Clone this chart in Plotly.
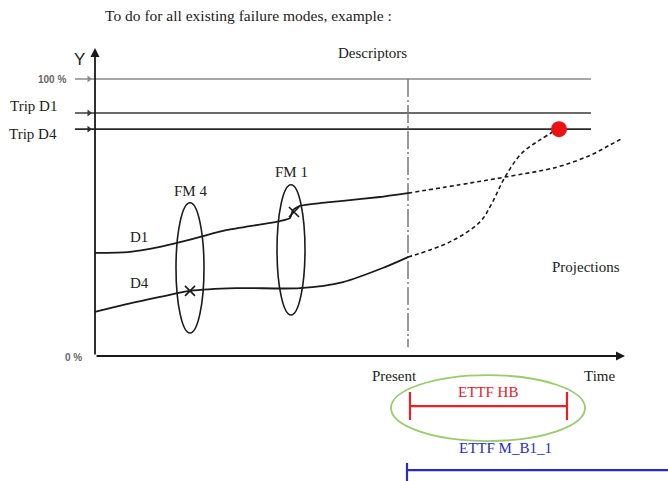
import plotly.graph_objects as go

# ---- data (time units: y-axis at 0, "Present" at 313; Y in percent) ----
PRESENT_T = 313
TRIP_D1 = 87.7
TRIP_D4 = 81.9
FULL = 100.0

d1_t = [0, 33, 65, 82, 108, 132, 185, 195, 198, 205, 225, 248, 285, 313]
d1_y = [37.2, 37.5, 39.4, 40.8, 43.3, 45.5, 48.7, 49.8, 52.7, 54.2, 55.2, 56.0, 57.4, 58.8]
d1_proj_t = [313, 376, 410, 462, 496, 515, 528]
d1_proj_y = [58.8, 62.5, 64.6, 68.2, 72.6, 76.2, 78.7]

d4_t = [0, 33, 65, 95, 141, 205, 248, 290, 313]
d4_y = [15.9, 18.8, 21.3, 23.5, 24.5, 24.5, 26.7, 32.1, 35.7]
d4_proj_t = [313, 355, 385, 397, 410, 427, 445, 464]
d4_proj_y = [35.7, 41.2, 48.4, 55.2, 64.6, 73.3, 78.0, 82.3]

fm_names = ["FM 4", "FM 1"]
fm_t = [95, 196]
fm_y = [31.8, 38.3]
fm_x_mark_t = [95, 199]
fm_x_mark_y = [23.5, 52.0]

trip_hit_t = 464
ettf_hb = [315, 472]
ettf_m = [312, 573]

fig = go.Figure()

BLACK = "#1a1a1a"

# horizontal reference lines
for yv, col in [(FULL, "#8a8a8a"), (TRIP_D1, "#3a3a3a"), (TRIP_D4, "#2a2a2a")]:
    fig.add_trace(go.Scatter(x=[-20, 496], y=[yv, yv], mode="lines",
                             line=dict(color=col, width=1.6), hoverinfo="skip"))
    fig.add_trace(go.Scatter(x=[-6], y=[yv], mode="markers",
                             marker=dict(symbol="triangle-right", size=6, color=col),
                             hoverinfo="skip"))

# present line
fig.add_trace(go.Scatter(x=[PRESENT_T, PRESENT_T], y=[FULL, 3.2], mode="lines",
                         line=dict(color="#7a7a7a", width=1.5, dash="18px,3px,2px,3px"),
                         hoverinfo="skip"))

# descriptor curves
fig.add_trace(go.Scatter(x=d1_t, y=d1_y, mode="lines",
                         line=dict(color=BLACK, width=1.8, shape="spline", smoothing=0.5)))
fig.add_trace(go.Scatter(x=d4_t, y=d4_y, mode="lines",
                         line=dict(color=BLACK, width=1.8, shape="spline", smoothing=0.8)))
fig.add_trace(go.Scatter(x=d1_proj_t, y=d1_proj_y, mode="lines",
                         line=dict(color=BLACK, width=1.6, dash="4px,3px", shape="spline")))
fig.add_trace(go.Scatter(x=d4_proj_t, y=d4_proj_y, mode="lines",
                         line=dict(color=BLACK, width=1.6, dash="4px,3px", shape="spline")))

# failure mode x marks
fig.add_trace(go.Scatter(x=fm_x_mark_t, y=fm_x_mark_y, mode="markers",
                         marker=dict(symbol="x-thin-open", size=10, color=BLACK,
                                     line=dict(color=BLACK, width=1.6))))

# trip hit
fig.add_trace(go.Scatter(x=[trip_hit_t], y=[TRIP_D4], mode="markers",
                         marker=dict(symbol="circle", size=16, color="#ee1111")))

# ETTF bars
fig.add_trace(go.Scatter(x=ettf_hb, y=[-18.1, -18.1], mode="lines",
                         line=dict(color="#e8202a", width=2.2)))
for tv in ettf_hb:
    fig.add_trace(go.Scatter(x=[tv, tv], y=[-13.0, -23.1], mode="lines",
                             line=dict(color="#e8202a", width=2.2)))
fig.add_trace(go.Scatter(x=ettf_m, y=[-41.2, -41.2], mode="lines",
                         line=dict(color="#2b2bc4", width=2.2)))
fig.add_trace(go.Scatter(x=[ettf_m[0], ettf_m[0]], y=[-38.6, -45.2], mode="lines",
                         line=dict(color="#2b2bc4", width=2.2)))

shapes = []
for t, y in zip(fm_t, fm_y):
    shapes.append(dict(type="circle", xref="x", yref="y",
                       x0=t - 14, x1=t + 14, y0=y - 23.5, y1=y + 23.5,
                       line=dict(color=BLACK, width=1.6)))
shapes.append(dict(type="circle", xref="x", yref="y",
                   x0=393 - 97, x1=393 + 97, y0=-18.8 - 11.9, y1=-18.8 + 11.9,
                   line=dict(color="#9bcb6a", width=1.8)))

SERIF = "Liberation Serif"
SANS = "Liberation Sans"

def txt(x, y, s, size=15, color="#222222", family=SERIF):
    return dict(x=x, y=y, xref="x", yref="y", text=s, showarrow=False,
                font=dict(family=family, size=size, color=color))

ann = [
    txt(153, 123.1, "To do for all existing failure modes, example :", 15.5),
    txt(277, 109.4, "Descriptors", 15),
    txt(491, 32.1, "Projections", 15),
    txt(44, 43.0, "D1", 15),
    txt(44, 26.4, "D4", 15),
    txt(fm_t[0], 59.6, fm_names[0], 15),
    txt(fm_t[1], 66.4, fm_names[1], 15),
    txt(-62, 90.3, "Trip D1", 15),
    txt(-62, 80.1, "Trip D4", 15),
    txt(-43, 100, "<b>100 %</b>", 10, "#666666", SANS),
    txt(-22, -0.4, "<b>0 %</b>", 10, "#666666", SANS),
    txt(-16, 107.2, "Y", 17, "#222222", SANS),
    txt(299, -7.2, "Present", 15),
    txt(504, -7.2, "Time", 15),
    txt(393, -13.0, "ETTF HB", 15, "#e8202a"),
    txt(410, -33.2, "ETTF M_B1_1", 15, "#2b2bc4"),
    # axes arrows
    dict(x=0, y=111.2, ax=0, ay=0, xref="x", yref="y", axref="x", ayref="y",
         showarrow=True, arrowhead=2, arrowsize=1, arrowwidth=1.8, arrowcolor=BLACK, text=""),
    dict(x=530, y=0, ax=0, ay=0, xref="x", yref="y", axref="x", ayref="y",
         showarrow=True, arrowhead=2, arrowsize=1, arrowwidth=1.8, arrowcolor=BLACK, text=""),
]

fig.update_layout(
    width=668, height=481,
    margin=dict(l=0, r=0, t=0, b=0),
    paper_bgcolor="white", plot_bgcolor="white",
    showlegend=False,
    xaxis=dict(range=[-95, 573], visible=False, fixedrange=True),
    yaxis=dict(range=[-45.13, 128.52], visible=False, fixedrange=True),
    shapes=shapes,
    annotations=ann,
)

fig.write_html("out.html", config={"displayModeBar": False},
               post_script="document.body.style.margin='0';")
